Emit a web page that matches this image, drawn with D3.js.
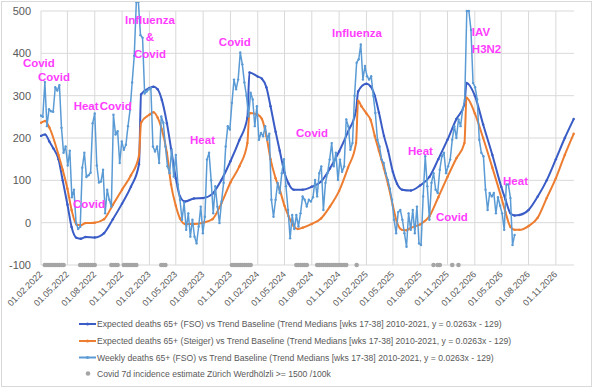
<!DOCTYPE html>
<html>
<head>
<meta charset="utf-8">
<script src="https://cdn.jsdelivr.net/npm/d3@7"></script>
<style>
  body { margin: 0; background: #fff; }
  svg { display: block; }
</style>
</head>
<body>
<div id="chart"></div>
<script>
// weekly observed deaths 65+ vs baseline, one value per week from weekStart
const weekStart = "2022-01-31";
const weeklyDeaths = [
  253, 250, 332, 228, 268, 263, 262, 320, 312, 325, 224, 165, 180, 135, 170, 60, 78, 0, -15, -10,
  130, 165, 108, 112, 118, 235, 258, 135, 95, 97, 125, 22, 78, 54, 38, 255, 208, 216, 141, 192,
  172, 184, 228, 267, 331, 394, 521, 521, 443, 437, 305, 310, 315, 318, 180, 168, 180, 141, 251, 236,
  180, 133, 117, 172, 109, 160, 90, 54, 7, 47, -17, 22, -33, 7, -33, -49, -9, 38, -25, 14,
  149, 165, 100, 22, 86, 38, -1, 50, 94, 180, 228, 220, 283, 338, 315, 338, 402, 374, 331, 300,
  251, 307, 291, 228, 275, 196, 212, 204, 228, 196, 210, 54, 14, 54, 94, 70, 117, 150, 86, 30,
  -37, 18, -15, 18, -9, 22, 62, 54, 38, 54, 50, 60, 101, 62, 117, 133, 30, 94, 117, 149,
  188, 133, 165, 101, 149, 120, 133, 244, 228, 172, 188, 300, 378, 386, 421, 338, 370, 346, 338, 346,
  300, 259, 196, 180, 149, 141, 117, 101, 80, 54, 7, -25, 25, 30, 7, -25, -57, 22, -17, 30,
  -25, 38, -49, -53, 62, 157, 86, 7, 94, 117, 78, 70, 125, 157, 165, 117, 133, 149, 196, 228,
  200, 244, 228, 267, 290, 500, 500, 455, 330, 320, 291, 196, 165, 157, 78, 30, 70, 62, 70, 22,
  60, 40, 22, -17, 90, 90, 58, -53, -29
];

// expected deaths, FSO
const fsoExpected = [
  ["2022-02-01", 205], ["2022-02-15", 208], ["2022-03-01", 192], ["2022-03-15", 175], ["2022-04-01", 150],
  ["2022-04-15", 100], ["2022-05-01", 43], ["2022-05-15", -10], ["2022-06-01", -36], ["2022-06-15", -38],
  ["2022-07-01", -34], ["2022-08-01", -35], ["2022-09-01", -25], ["2022-10-01", 8], ["2022-11-01", 45],
  ["2022-12-01", 85], ["2022-12-28", 138], ["2023-01-04", 303], ["2023-02-01", 318], ["2023-02-15", 321],
  ["2023-03-01", 315], ["2023-03-15", 290], ["2023-04-01", 235], ["2023-04-15", 175], ["2023-05-01", 105],
  ["2023-05-15", 62], ["2023-06-01", 50], ["2023-07-01", 57], ["2023-08-01", 58], ["2023-09-01", 68],
  ["2023-10-01", 100], ["2023-11-01", 145], ["2023-12-01", 195], ["2023-12-28", 248], ["2024-01-04", 355],
  ["2024-02-01", 345], ["2024-02-15", 340], ["2024-03-01", 320], ["2024-03-15", 275], ["2024-04-01", 215],
  ["2024-04-15", 170], ["2024-05-01", 118], ["2024-05-15", 92], ["2024-06-01", 78], ["2024-07-01", 78],
  ["2024-08-01", 85], ["2024-09-01", 97], ["2024-10-01", 128], ["2024-11-01", 168], ["2024-12-01", 215],
  ["2024-12-28", 265], ["2025-01-04", 310], ["2025-02-01", 328], ["2025-02-15", 322], ["2025-03-01", 300],
  ["2025-03-15", 260], ["2025-04-01", 205], ["2025-04-15", 170], ["2025-05-01", 120], ["2025-05-15", 92],
  ["2025-06-01", 78], ["2025-07-01", 76], ["2025-08-01", 88], ["2025-09-01", 108], ["2025-10-01", 150],
  ["2025-11-01", 196], ["2025-12-01", 245], ["2025-12-28", 279], ["2026-01-04", 330], ["2026-02-01", 300],
  ["2026-03-01", 232], ["2026-04-01", 160], ["2026-05-01", 85], ["2026-05-15", 55], ["2026-06-01", 22],
  ["2026-06-15", 17], ["2026-07-01", 18], ["2026-08-01", 30], ["2026-09-01", 62], ["2026-10-01", 100],
  ["2026-11-01", 150], ["2026-12-01", 200], ["2026-12-31", 245]
];

// expected deaths, Steiger
const steigerExpected = [
  ["2022-02-01", 236], ["2022-02-15", 240], ["2022-03-01", 225], ["2022-04-01", 160], ["2022-04-15", 125],
  ["2022-05-01", 80], ["2022-05-15", 30], ["2022-06-01", -5], ["2022-06-15", -6], ["2022-07-01", -1],
  ["2022-08-01", 0], ["2022-09-01", 8], ["2022-10-01", 42], ["2022-11-01", 78], ["2022-12-01", 112],
  ["2022-12-28", 158], ["2023-01-04", 236], ["2023-02-01", 255], ["2023-02-15", 261], ["2023-03-01", 248],
  ["2023-03-15", 220], ["2023-04-01", 165], ["2023-04-15", 90], ["2023-05-01", 40], ["2023-05-15", 10],
  ["2023-06-01", -3], ["2023-07-01", -3], ["2023-08-01", 0], ["2023-09-01", 8], ["2023-10-01", 45],
  ["2023-11-01", 95], ["2023-12-01", 133], ["2023-12-28", 188], ["2024-01-04", 259], ["2024-02-01", 255],
  ["2024-02-15", 245], ["2024-03-01", 205], ["2024-03-15", 150], ["2024-04-01", 105], ["2024-04-15", 78],
  ["2024-05-01", 40], ["2024-05-15", 15], ["2024-06-01", -8], ["2024-06-15", -15], ["2024-07-01", -12],
  ["2024-08-01", -3], ["2024-09-01", 10], ["2024-10-01", 38], ["2024-11-01", 75], ["2024-12-01", 130],
  ["2024-12-28", 188], ["2025-01-04", 288], ["2025-01-15", 275], ["2025-02-01", 258], ["2025-02-15", 243],
  ["2025-03-01", 205], ["2025-03-15", 170], ["2025-04-01", 128], ["2025-04-15", 90], ["2025-05-01", 40],
  ["2025-05-15", 0], ["2025-06-01", -17], ["2025-06-15", -18], ["2025-07-01", -12], ["2025-08-01", -4],
  ["2025-09-01", 15], ["2025-10-01", 60], ["2025-11-01", 108], ["2025-12-01", 152], ["2025-12-28", 188],
  ["2026-01-04", 295], ["2026-02-01", 258], ["2026-03-01", 200], ["2026-04-01", 130], ["2026-05-01", 60],
  ["2026-05-15", 25], ["2026-06-01", -10], ["2026-06-15", -17], ["2026-07-01", -17], ["2026-08-01", -8],
  ["2026-09-01", 12], ["2026-10-01", 58], ["2026-11-01", 105], ["2026-12-01", 160], ["2026-12-31", 210]
];

// weeks (index from weekStart) with covid incidence >= 1500/100k, drawn at -100
const covidWeeks = [
  2, 3, 4, 5, 6, 7, 8, 9, 10, 11,
  19, 20, 21, 22, 23, 24, 25, 26,
  34, 35, 36, 37, 40, 41, 42, 43, 44, 45, 46,
  58, 59, 60,
  92, 93, 94, 95, 96, 97, 98, 99, 100, 101,
  123, 124, 125, 126, 127, 128,
  133, 134, 135, 136, 137, 138, 139, 140, 141, 142, 143, 144, 145, 146, 147,
  152, 189, 191, 192, 198, 201
];

const yTicks = [-100, 0, 100, 200, 300, 400, 500];

const notes = [
  { text: "Covid", date: "2021-12-02", value: 368 },
  { text: "Covid", date: "2022-01-22", value: 334 },
  { text: "Heat", date: "2022-05-22", value: 267 },
  { text: "Covid", date: "2022-08-18", value: 267 },
  { text: "Covid", date: "2022-05-20", value: 35 },
  { text: "Influenza", date: "2023-02-03", value: 469, mid: true },
  { text: "&", date: "2023-02-03", value: 429, mid: true },
  { text: "Covid", date: "2023-02-03", value: 389, mid: true },
  { text: "Heat", date: "2023-06-18", value: 186 },
  { text: "Covid", date: "2023-09-23", value: 417 },
  { text: "Covid", date: "2024-06-09", value: 202 },
  { text: "Influenza", date: "2024-10-08", value: 439 },
  { text: "Heat", date: "2025-06-21", value: 160 },
  { text: "Covid", date: "2025-09-23", value: 4 },
  { text: "IAV", date: "2026-01-22", value: 441 },
  { text: "H3N2", date: "2026-01-22", value: 401 },
  { text: "Heat", date: "2026-05-07", value: 89 }
];

const legendItems = [
  { label: "Expected deaths 65+ (FSO) vs Trend Baseline (Trend Medians [wks 17-38] 2010-2021, y = 0.0263x - 129)", color: "#3a5cc6", kind: "line" },
  { label: "Expected deaths 65+ (Steiger) vs Trend Baseline (Trend Medians [wks 17-38] 2010-2021, y = 0.0263x - 129)", color: "#ed7d31", kind: "line" },
  { label: "Weekly deaths 65+ (FSO) vs Trend Baseline (Trend Medians [wks 17-38] 2010-2021, y = 0.0263x - 129)", color: "#5b9bd5", kind: "line" },
  { label: "Covid 7d incidence estimate Zürich Werdhölzli >= 1500 /100k", color: "#a5a5a5", kind: "dot" }
];

const width = 593;
const height = 388;
const margin = { top: 11, right: 19, bottom: 123, left: 41 };
const font = "'Liberation Sans', Arial, sans-serif";
const parse = d3.utcParse("%Y-%m-%d");

const svg = d3.select("#chart").append("svg")
  .attr("width", width)
  .attr("height", height)
  .style("font-family", font);

svg.append("rect")
  .attr("x", 1.5).attr("y", 1.5)
  .attr("width", width - 3).attr("height", height - 3)
  .attr("fill", "#fff").attr("stroke", "#d9d9d9");

const x = d3.scaleUtc()
  .domain([parse("2022-02-01"), parse("2027-01-01")])
  .range([margin.left, width - margin.right]);

const y = d3.scaleLinear()
  .domain([-100, 500])
  .range([height - margin.bottom, margin.top]);

// gridlines, ticks every 3 months from 01.02.2022
const xTicks = d3.utcMonth.range(parse("2022-02-01"), parse("2026-12-01"), 3);

svg.append("g")
  .selectAll("line")
  .data(yTicks)
  .join("line")
  .attr("x1", x.range()[0]).attr("x2", x.range()[1])
  .attr("y1", d => y(d)).attr("y2", d => y(d))
  .attr("stroke", "#d9d9d9");

svg.append("g")
  .selectAll("line")
  .data(xTicks)
  .join("line")
  .attr("x1", d => x(d)).attr("x2", d => x(d))
  .attr("y1", y(500)).attr("y2", y(-100))
  .attr("stroke", "#d9d9d9");

// y labels
svg.append("g")
  .selectAll("text")
  .data(yTicks)
  .join("text")
  .attr("x", margin.left - 10)
  .attr("y", d => y(d))
  .attr("dy", "0.35em")
  .attr("text-anchor", "end")
  .attr("font-size", 11)
  .attr("fill", "#595959")
  .text(d => d);

// x labels
const fmt = d3.utcFormat("%d.%m.%Y");
svg.append("g")
  .selectAll("text")
  .data(xTicks)
  .join("text")
  .attr("transform", d => `translate(${x(d) + 2},${y(-100) + 10}) rotate(-45)`)
  .attr("text-anchor", "end")
  .attr("font-size", 9)
  .attr("fill", "#595959")
  .text(d => fmt(d));

svg.append("clipPath").attr("id", "plot-clip")
  .append("rect")
  .attr("x", margin.left - 1).attr("y", 2)
  .attr("width", width - margin.left - margin.right + 2)
  .attr("height", y(-100) + 4);

const plot = svg.append("g").attr("clip-path", "url(#plot-clip)");

const start = parse(weekStart);
const weekly = weeklyDeaths.map((v, i) => ({ date: d3.utcDay.offset(start, i * 7), value: v }));
const fso = fsoExpected.map(([d, v]) => ({ date: parse(d), value: v }));
const steiger = steigerExpected.map(([d, v]) => ({ date: parse(d), value: v }));

const smooth = d3.line().x(d => x(d.date)).y(d => y(d.value)).curve(d3.curveMonotoneX);
const straight = d3.line().x(d => x(d.date)).y(d => y(d.value));

function series(data, color, w, gen) {
  plot.append("path")
    .datum(data)
    .attr("fill", "none")
    .attr("stroke", color)
    .attr("stroke-width", w)
    .attr("stroke-linejoin", "round")
    .attr("d", gen);
  plot.append("g")
    .selectAll("circle")
    .data(data)
    .join("circle")
    .attr("cx", d => x(d.date))
    .attr("cy", d => y(d.value))
    .attr("r", 1.2)
    .attr("fill", color);
}

series(fso, legendItems[0].color, 2, smooth);
series(steiger, legendItems[1].color, 2, smooth);
series(weekly, legendItems[2].color, 1.5, straight);

// covid incidence dots
plot.append("g")
  .selectAll("circle")
  .data(covidWeeks)
  .join("circle")
  .attr("cx", d => x(d3.utcDay.offset(start, d * 7)))
  .attr("cy", y(-100))
  .attr("r", 2.3)
  .attr("fill", legendItems[3].color);

// annotations
svg.append("g")
  .selectAll("text")
  .data(notes)
  .join("text")
  .attr("x", d => x(parse(d.date)))
  .attr("y", d => y(d.value))
  .attr("text-anchor", d => d.mid ? "middle" : "start")
  .attr("font-size", 11.5)
  .attr("font-weight", "bold")
  .attr("fill", "#ff3cff")
  .text(d => d.text);

// legend
const legend = svg.append("g");
const rowY = [324, 341, 357.5, 373.5];
const rows = legend.selectAll("g")
  .data(legendItems)
  .join("g")
  .attr("transform", (d, i) => `translate(79,${rowY[i]})`);

rows.filter(d => d.kind === "line").append("line")
  .attr("x1", 0).attr("x2", 17)
  .attr("stroke", d => d.color).attr("stroke-width", 2);
rows.filter(d => d.kind === "line").append("circle")
  .attr("cx", 8.5).attr("r", 1.5).attr("fill", d => d.color);
rows.filter(d => d.kind === "dot").append("circle")
  .attr("cx", 9).attr("r", 2.3).attr("fill", d => d.color);

const labels = rows.append("text")
  .attr("x", 18)
  .attr("dy", "0.35em")
  .attr("font-size", 10)
  .attr("fill", "#595959")
  .text(d => d.label);

// scale legend font so the first row spans like the reference
const w0 = labels.node().getComputedTextLength();
labels.attr("font-size", 10 * 405 / w0);
</script>
</body>
</html>
